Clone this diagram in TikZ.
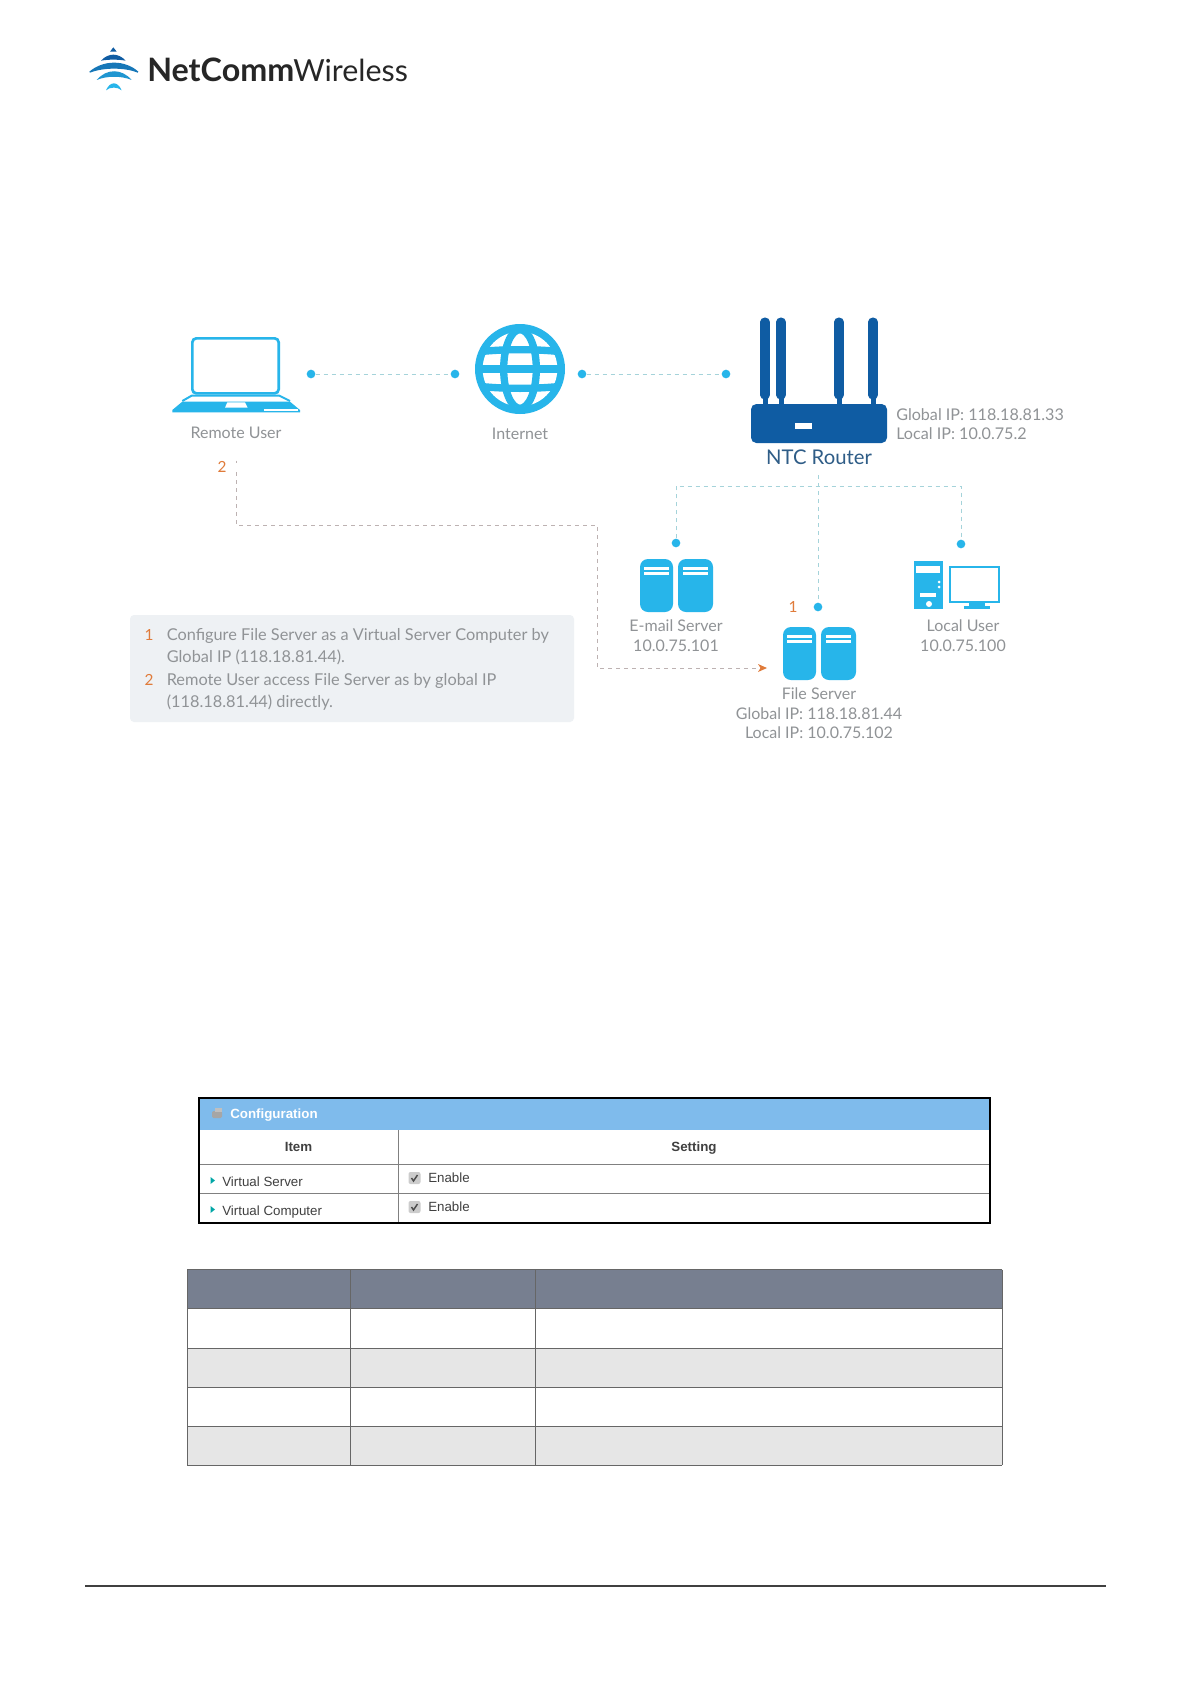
\documentclass[tikz,border=0pt]{standalone}
\usepackage{fontspec}
\setmainfont{Lato}
\newfontfamily\arialf{Liberation Sans}
\usetikzlibrary{arrows.meta}
\definecolor{cy}{HTML}{27B5EA}
\definecolor{navy}{HTML}{0F5CA3}
\definecolor{lbl}{HTML}{909396}
\definecolor{orng}{HTML}{E07B3A}
\definecolor{tealdash}{HTML}{A5D3DA}
\definecolor{browndash}{HTML}{BDB2B2}
\definecolor{legbg}{HTML}{EEF1F4}
\definecolor{cfghead}{HTML}{7FBBEC}
\definecolor{thead}{HTML}{777F90}
\definecolor{talt}{HTML}{E6E6E6}
\tikzset{
 dot/.style={circle,fill=cy,inner sep=0pt,minimum size=6.5pt},
 lab/.style={anchor=base,inner sep=0pt,text=lbl,font=\fontsize{12}{14}\selectfont},
 labl/.style={anchor=base west,inner sep=0pt,text=lbl,font=\fontsize{12.1}{14}\selectfont},
 num/.style={anchor=base,inner sep=0pt,text=orng,font=\fontsize{11.5}{14}\selectfont},
 leg/.style={anchor=base west,inner sep=0pt,text=lbl,font=\fontsize{12.25}{14}\selectfont},
 cfg/.style={anchor=base west,inner sep=0pt,text=black!75,font=\arialf\fontsize{10}{12}\selectfont},
 cfgb/.style={anchor=base,inner sep=0pt,text=black!75,font=\arialf\bfseries\fontsize{10}{12}\selectfont},
 tealline/.style={tealdash,line width=.55pt,dash pattern=on 3pt off 3pt},
 brownline/.style={browndash,line width=.55pt,dash pattern=on 3pt off 3pt},
 tline/.style={draw=black!60,line width=.7pt},
 cfgline/.style={draw=black!50,line width=.7pt},
 pics/srv/.style={code={
   \fill[cy,rounded corners=6pt] (0,0) rectangle (33,53);
   \fill[cy,rounded corners=6pt] (38,0) rectangle (73,53);
   \fill[white] (4,8) rectangle (29,11);
   \fill[white] (4,13) rectangle (29,15.5);
   \fill[white] (43,8) rectangle (68,11);
   \fill[white] (43,13) rectangle (68,15.5);
 }},
 pics/chk/.style={code={
   \fill[black!20,rounded corners=1.5pt] (-6,-6) rectangle (6,6);
   \draw[black!70,line width=1.1pt] (-3,0) -- (-1,3) -- (3,-3);
 }},
}
\begin{document}
\begin{tikzpicture}[x=.75pt,y=-.75pt]
\path[use as bounding box,fill=white] (0,0) rectangle (1191,1684);

% logo
\begin{scope}[shift={(70,30)},x=.25pt,y=-.25pt]
 \fill[navy] (130,52) -- (120,65) -- (140,65) -- cycle;
 \fill[navy] (93,92) .. controls (115,68) and (145,68) .. (167,92) .. controls (145,88) and (115,88) .. cycle;
 \fill[navy!70!cy] (58,125) -- (60,128) .. controls (100,112) and (165,112) .. (203,128) -- (205,125) .. controls (165,89) and (100,89) .. cycle;
 \fill[cy!65!navy] (80,150) .. controls (110,115) and (155,115) .. (185,150) .. controls (155,137) and (110,137) .. cycle;
 \fill[cy] (108,181) .. controls (120,153) and (143,153) .. (155,181) .. controls (143,170) and (120,170) .. cycle;
\end{scope}
\node[anchor=base west,inner sep=0pt,text=black!85] (logoa) at (147,81) {\fontsize{24.2}{26}\bfseries\selectfont NetComm};
\node[anchor=base west,inner sep=0pt,text=black!85] (logob) at (293,81) {\fontsize{22.8}{26}\selectfont Wireless};

% laptop
\begin{scope}[shift={(150,300)},x=.25pt,y=-.25pt]
 \draw[cy,line width=2pt,rounded corners=3pt] (127,115) rectangle (386,280);
 \draw[cy,line width=1.5pt] (97,303) -- (125,287) -- (388,287) -- (420,303);
 \fill[cy] (67,330) -- (97,305) -- (420,305) -- (450,330) -- (450,337) -- (67,337) -- cycle;
 \fill[white] (232,307) -- (285,307) -- (293,323) -- (225,323) -- cycle;
 \fill[white] (343,327) rectangle (445,333);
\end{scope}

% globe
\begin{scope}[shift={(520,369)},x=.25pt,y=-.25pt]
 \fill[cy] (0,0) circle [radius=135];
 \fill[white] (0,0) circle [radius=112];
 \begin{scope}
  \clip (0,0) circle [radius=114];
  \draw[cy,line width=5.5pt] (0,0) ellipse [x radius=49,y radius=118];
  \draw[cy,line width=5.5pt] (-130,0) -- (130,0);
  \draw[cy,line width=5.5pt] (-120,-52) .. controls (-50,-60) and (50,-60) .. (120,-52);
  \draw[cy,line width=5.5pt] (-120,52) .. controls (-50,60) and (50,60) .. (120,52);
 \end{scope}
\end{scope}

% router
\foreach \ax in {765,781,839,873}{
 \draw[navy,line width=6.8pt,line cap=round] (\ax,322) -- (\ax,395);
 \fill[navy] (\ax-2.5,392) rectangle (\ax+2.5,406);
}
\fill[navy,rounded corners=4pt] (751,404) rectangle (887,443);
\fill[white] (795,423) rectangle (812,429);

% servers, user
\pic at (640,559) {srv};
\pic at (783,627) {srv};
\fill[cy] (914,561) rectangle (943,609);
\fill[white] (916,566) rectangle (940,573);
\fill[white] (920,593) rectangle (936,597);
\fill[white] (929,604) circle [radius=3];
\fill[white] (939,582) circle [radius=1.5];
\fill[white] (939,587) circle [radius=1.5];
\draw[cy,line width=1.6pt] (950,567) rectangle (999,602);
\fill[cy] (969,603) rectangle (985,606);
\fill[cy] (964,606) rectangle (990,609);

% dots
\node[dot] (d1) at (311,374) {};
\node[dot] (d2) at (455,374) {};
\node[dot] (d3) at (582,374) {};
\node[dot] (d4) at (726,374) {};
\node[dot] (dm) at (676,543) {};
\node[dot] (df) at (818,607) {};
\node[dot] (du) at (961,544) {};

% connectors
\coordinate (jl) at (676,486);
\coordinate (jr) at (961,486);
\coordinate (jt) at (818,475);
\coordinate (js) at (236,472);
\coordinate (jc1) at (236,525);
\coordinate (jc2) at (597,525);
\coordinate (jc3) at (597,668);
\coordinate (je) at (767,668);
\coordinate (jt0) at (236,460.5);
\coordinate (jt1) at (236,463);
\draw[tealline] (d1) -- (d2);
\draw[tealline] (d3) -- (d4);
\draw[tealline] (dm) -- (jl) -- (jr) -- (du);
\draw[tealline] (jt) -- (df);
\draw[brownline] (js) -- (jc1) -- (jc2) -- (jc3) -- (je);
\draw[browndash,line width=.55pt] (jt0) -- (jt1);
\fill[orng] (767,668) -- (758,664) -- (760.5,668) -- (758,672) -- cycle;

% labels
\node[lab] (t1) at (236,438.7) {Remote User};
\node[lab] (t2) at (520,439.3) {Internet};
\node[num] (n2) at (222,472.2) {2};
\node[num] (n1) at (793,612.5) {1};
\node[anchor=base,inner sep=0pt,text=navy!70!black!85,font=\fontsize{15.2}{17}\selectfont] (t3) at (819,464) {NTC Router};
\node[labl] (t4) at (896,420.5) {Global IP: 118.18.81.33};
\node[labl] (t5) at (896,439.8) {Local IP: 10.0.75.2};
\node[lab] (t6) at (676,631.5) {E-mail Server};
\node[lab] (t7) at (676,651.2) {10.0.75.101};
\node[lab] (t8) at (963,631.5) {Local User};
\node[lab] (t9) at (963,651.2) {10.0.75.100};
\node[lab] (t10) at (819,699.8) {File Server};
\node[lab] (t11) at (819,719.2) {Global IP: 118.18.81.44};
\node[lab] (t12) at (819,738.8) {Local IP: 10.0.75.102};

% legend
\fill[legbg,rounded corners=3pt] (130,615) rectangle (574,722);
\node[num] (l1) at (149,640.7) {1};
\node[num] (l2) at (149,685.3) {2};
\node[leg] (ll1) at (166.5,640.7) {Configure File Server as a Virtual Server Computer by};
\node[leg] (ll2) at (166.5,662.7) {Global IP (118.18.81.44).};
\node[leg] (ll3) at (166.5,685.3) {Remote User access File Server as by global IP};
\node[leg] (ll4) at (166.5,707.7) {(118.18.81.44) directly.};

% configuration table
\fill[cfghead] (199,1098) rectangle (990,1130);
\fill[black!35,rounded corners=1pt] (212,1111) rectangle (222,1118);
\fill[black!25] (215,1108) rectangle (222,1112);
\node[anchor=base west,inner sep=0pt,text=white,font=\arialf\bfseries\fontsize{10}{12}\selectfont] (c0) at (230,1118) {Configuration};
\draw[cfgline] (398,1130) -- (398,1223);
\draw[cfgline] (199,1164) -- (990,1164);
\draw[cfgline] (199,1193) -- (990,1193);
\node[cfgb] (c1) at (298.5,1151.3) {Item};
\node[cfgb] (c2) at (694,1151.3) {Setting};
\foreach \ty in {1180.5,1209.5}{\fill[teal!70!cyan] (210.5,\ty-3.5) -- (215,\ty) -- (210.5,\ty+3.5) -- cycle;}
\node[cfg] (c3) at (222,1186.7) {Virtual Server};
\node[cfg] (c4) at (222,1215.7) {Virtual Computer};
\pic at (414.5,1178) {chk};
\pic at (414.5,1207) {chk};
\node[cfg] (c5) at (428,1182) {Enable};
\node[cfg] (c6) at (428,1211) {Enable};
\draw[black,line width=1.8pt] (199,1098) rectangle (990,1223);

% empty table
\fill[thead] (187,1269.5) rectangle (1002,1308);
\fill[talt] (187,1348) rectangle (1002,1387.5);
\fill[talt] (187,1426) rectangle (1002,1465);
\foreach \ty in {1269.5,1308,1348,1387.5,1426,1465}{\draw[tline] (187,\ty) -- (1002,\ty);}
\foreach \tx in {187,350,535,1002}{\draw[tline] (\tx,1269.5) -- (\tx,1465);}

% footer rule
\draw[black!75,line width=.9pt] (85,1586) -- (1106,1586);
\end{tikzpicture}
\end{document}
